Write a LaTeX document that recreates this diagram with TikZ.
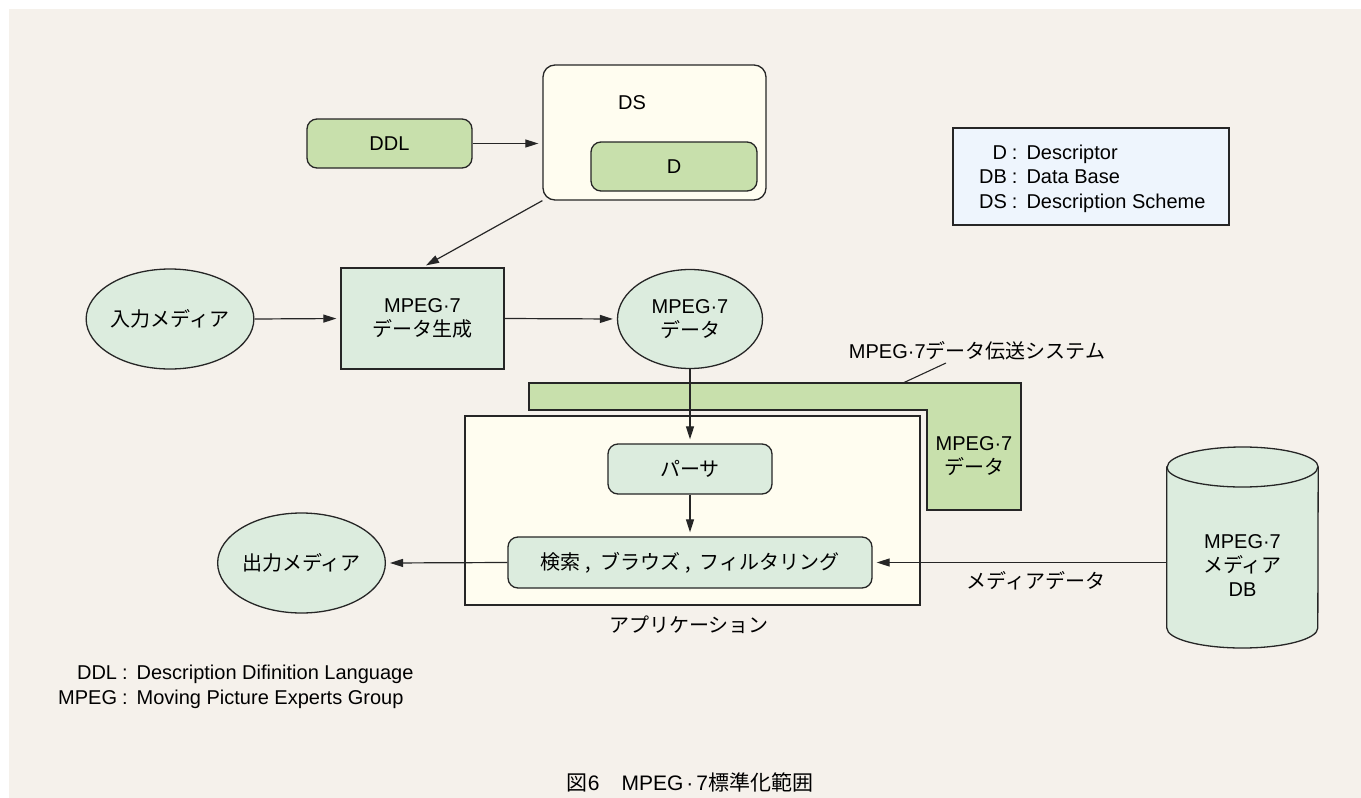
\documentclass[tikz,border=0pt]{standalone}
\usepackage{fontspec}
\setmainfont{Liberation Sans}
\newfontfamily\jp{Noto Sans CJK JP}
\usetikzlibrary{shapes.geometric,arrows.meta}
\definecolor{bgc}{HTML}{F5F1EB}
\definecolor{cream}{HTML}{FFFDF0}
\definecolor{greenA}{HTML}{C8E0AC}
\definecolor{lgreen}{HTML}{DCECDE}
\definecolor{legc}{HTML}{EEF5FD}
\definecolor{linec}{HTML}{262626}
\begin{document}
\begin{tikzpicture}[x=1pt,y=-1pt,font=\fontsize{20}{24.5}\selectfont,
  box/.style={draw=linec,line width=1.3pt,inner sep=0pt},
  ell/.style={ellipse,draw=linec,line width=1.3pt,fill=lgreen,inner sep=0pt,align=center},
  arr/.style={draw=linec,line width=1.2pt,-{Triangle[length=13pt,width=8pt]},shorten >=4pt},
  thinl/.style={draw=linec,line width=1.1pt}]
\fill[white] (0,0) rectangle (1361,798);
\fill[bgc] (9,9) rectangle (1361,798);
\useasboundingbox (0,0) rectangle (1361,798);

% DS / D / DDL
\node[box,rounded corners=12pt,fill=cream,minimum width=223pt,minimum height=135pt] (ds) at (654.5,132.5) {};
\node (dslabel) at (632,103) {DS};
\node[box,rounded corners=10pt,fill=greenA,minimum width=166pt,minimum height=49pt] (d) at (674,166.5) {D};
\node[box,rounded corners=10pt,fill=greenA,minimum width=165pt,minimum height=49pt] (ddl) at (389.5,143.5) {DDL};
\draw[arr] (ddl.east) -- (ddl.east -| ds.west);

% legend
\node[box,fill=legc,minimum width=276pt,minimum height=97pt] (leg) at (1091,176.5) {};
\node[anchor=west,inner sep=0pt] (legt) at (979,179) {\begin{tabular}{@{}r@{\hspace{5pt}:\hspace{9pt}}l@{}}D & Descriptor\\DB & Data Base\\DS & Description Scheme\end{tabular}};

% middle row
\node[ell,minimum width=146pt,minimum height=100pt] (in) at (170,319) {{\jp 入力メディア}};
\node[box,fill=lgreen,minimum width=163pt,minimum height=101pt,align=center] (gen) at (422.5,318.5) {MPEG·7\\[-1pt]{\jp データ生成}};
\node[ell,minimum width=145pt,minimum height=99pt] (data) at (690,319) {MPEG·7\\[-1pt]{\jp データ}};
\draw[arr] (ds.south west) -- (gen.north);
\draw[arr] (in.east) -- (gen.west);
\draw[arr] (gen.east) -- (data.west);

% transmission system
\draw[fill=greenA,draw=linec,line width=1.3pt] (529,383) -- (1021,383) -- (1021,510) -- (927,510) -- (927,410) -- (529,410) -- cycle;
\node[align=center] (ltext) at (974,456) {MPEG·7\\[-1pt]{\jp データ}};
\node (trans) at (977,351) {MPEG·7{\jp データ伝送システム}};
\coordinate (lead1) at (903,383);
\coordinate (lead2) at (946,363);
\draw[thinl] (lead1) -- (lead2);

% application
\node[box,fill=cream,minimum width=455pt,minimum height=189pt] (app) at (692.5,510.5) {};
\node (applabel) at (689,625) {{\jp アプリケーション}};
\node[box,rounded corners=10pt,fill=lgreen,minimum width=164pt,minimum height=50pt] (parser) at (690,469) {{\jp パーサ}};
\node[box,rounded corners=10pt,fill=lgreen,minimum width=364pt,minimum height=51pt] (search) at (690,562.5) {{\jp 検索\hspace{5pt},\hspace{9pt}ブラウズ\hspace{5pt},\hspace{9pt}フィルタリング}};
\draw[arr] (data.south) -- (data.south |- parser.north);
\draw[arr] (parser.south) -- (search.north);

% output
\node[ell,minimum width=145pt,minimum height=100pt] (out) at (301.5,563) {{\jp 出力メディア}};
\draw[arr] (search.west) -- (out.east);

% database cylinder
\node[minimum width=151pt,minimum height=201pt,inner sep=0pt] (db) at (1242.5,547.5) {};
\draw[fill=lgreen,draw=linec,line width=1.3pt] (db.west |- 0,467) -- (db.west |- 0,628) arc[start angle=180,end angle=360,x radius=75.5pt,y radius=20pt] -- (db.east |- 0,467) arc[start angle=0,end angle=180,x radius=75.5pt,y radius=20pt] -- cycle;
\draw[draw=linec,line width=1.3pt] (db.west |- 0,467) arc[start angle=180,end angle=360,x radius=75.5pt,y radius=20pt];
\node[align=center] (dbt) at (1242.5,566) {MPEG·7\\[-0.5pt]{\jp メディア}\\[-0.5pt]DB};
\draw[arr] (db.west |- search.east) -- (search.east);
\node (medialabel) at (1036,581) {{\jp メディアデータ}};

% footnotes
\node[anchor=west,inner sep=0pt] (foot) at (58,687) {\begin{tabular}{@{}r@{\hspace{5pt}:\hspace{9pt}}l@{}}DDL & Description Difinition Language\\MPEG & Moving Picture Experts Group\end{tabular}};

% caption
\node (caption) at (690,782) {\fontsize{21}{24}\selectfont{\jp 図}6\hspace{22pt}MPEG\hspace{3pt}·\hspace{3pt}7{\jp 標準化範囲}};
\end{tikzpicture}
\end{document}
